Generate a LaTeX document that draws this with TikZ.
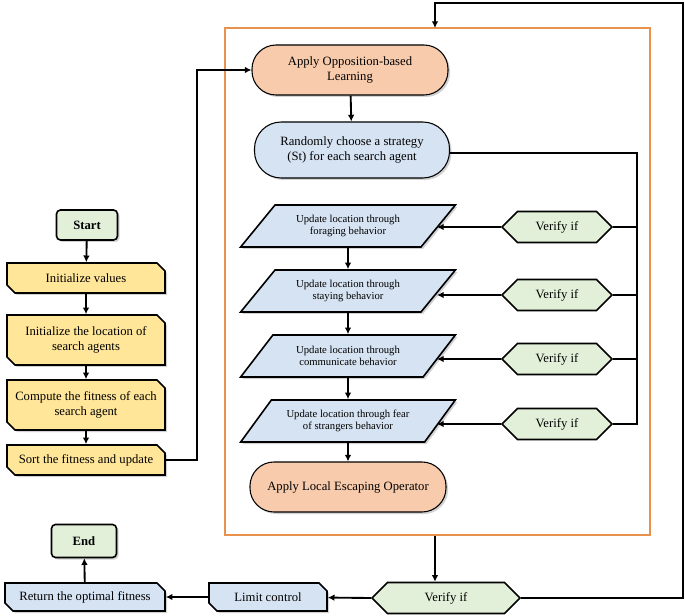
\documentclass[tikz,border=0pt]{standalone}
\usepackage{fontspec}
\setmainfont{Liberation Serif}
\usetikzlibrary{shapes.misc,shapes.geometric,shapes.symbols,arrows.meta,shadows}
\newdimen\pxu \pxu=0.75pt
\definecolor{myorange}{HTML}{F7CBAC}
\definecolor{myblue}{HTML}{D6E3F2}
\definecolor{mygreen}{HTML}{E2F0D9}
\definecolor{myyellow}{HTML}{FFE699}
\definecolor{frameor}{HTML}{E8924E}
\begin{document}
\begin{tikzpicture}[x=0.75pt,y=-0.75pt,
  base/.style={draw=black,line width=1.2pt,align=center,font=\fontsize{9.5}{11}\selectfont,inner sep=1pt,
    drop shadow={shadow xshift=1.5pt,shadow yshift=-1.5pt,fill=gray!70}},
  term/.style={base,rounded corners=3pt,fill=mygreen,font=\fontsize{9.5}{11}\selectfont\bfseries},
  proc/.style={base,chamfered rectangle,chamfered rectangle corners={north east,south west},chamfered rectangle xsep=3pt,fill=myyellow},
  bproc/.style={proc,fill=myblue},
  pill/.style={base,rounded corners=18pt,line width=0.8pt},
  para/.style={base,line width=1.2pt,trapezium,trapezium left angle=45,trapezium right angle=135,trapezium stretches=true,fill=myblue,font=\fontsize{8}{9.5}\selectfont,minimum width={215\pxu},minimum height={42\pxu}},
  ver/.style={draw=black,line width=1.2pt,signal,signal to=east and west,fill=mygreen,font=\fontsize{9.5}{11}\selectfont,minimum width={110\pxu},minimum height={31\pxu},inner sep=1pt},
  arr/.style={line width=1.4pt,-{Latex[length=5pt,width=5pt]}},
  ln/.style={line width=1.2pt}]
\useasboundingbox (0,0) rectangle (685,616);
\draw[frameor,line width=1pt] (225,28) rectangle (650,535);
% left column
\node[term,minimum width={61\pxu},minimum height={30\pxu}] (start) at (87,225) {Start};
\node[proc,minimum width={158\pxu},minimum height={30\pxu}] (iv) at (86,278) {Initialize values};
\node[proc,minimum width={158\pxu},minimum height={50\pxu}] (il) at (86,340) {Initialize the location of\\search agents};
\node[proc,minimum width={158\pxu},minimum height={50\pxu}] (cf) at (86,405) {Compute the fitness of each\\search agent};
\node[proc,minimum width={158\pxu},minimum height={30\pxu}] (sf) at (86,460) {Sort the fitness and update};
\draw[arr] (start) -- (iv);
\draw[arr] (iv) -- (il);
\draw[arr] (il) -- (cf);
\draw[arr] (cf) -- (sf);
% frame content
\node[pill,fill=myorange,minimum width={196\pxu},minimum height={50\pxu}] (obl) at (350,70) {Apply Opposition-based\\Learning};
\node[pill,fill=myblue,minimum width={195\pxu},minimum height={56\pxu},rounded corners=20pt] (rc) at (352,150) {Randomly choose a strategy\\(St) for each search agent};
\node[para] (p1) at (348,226) {Update location through\\foraging behavior};
\node[para] (p2) at (348,291) {Update location through\\staying behavior};
\node[para] (p3) at (348,356) {Update location through\\communicate behavior};
\node[para] (p4) at (348,421) {Update location through fear\\of strangers behavior};
\node[pill,fill=myorange,minimum width={196\pxu},minimum height={50\pxu}] (leo) at (348,487) {Apply Local Escaping Operator};
\node[ver] (v1) at (557,227) {Verify if};
\node[ver] (v2) at (557,295) {Verify if};
\node[ver] (v3) at (557,359) {Verify if};
\node[ver] (v4) at (557,424) {Verify if};
\coordinate (rt) at (637,153);
\coordinate (rb) at (637,424);
\draw[ln] (rc.east |- rt) -- (rt) -- (rb) -- (v4.east);
\draw[ln] (v1.east) -- (v1.east -| rt);
\draw[ln] (v2.east) -- (v2.east -| rt);
\draw[ln] (v3.east) -- (v3.east -| rt);
\draw[arr] (v1.west) -- (437,227);
\draw[arr] (v2.west) -- (437,295);
\draw[arr] (v3.west) -- (437,359);
\draw[arr] (v4.west) -- (437,424);
\draw[arr] (obl) -- (rc);
\draw[arr] (p1) -- (p2);
\draw[arr] (p2) -- (p3);
\draw[arr] (p3) -- (p4);
\draw[arr] (p4) -- (leo);
% sort to OBL
\coordinate (s1) at (197,460);
\coordinate (s2) at (197,70);
\draw[arr] (sf.east) -- (s1) -- (s2) -- (obl.west);
% bottom
\node[ver,minimum width={148\pxu}] (vb) at (446,598) {Verify if};
\node[bproc,minimum width={118\pxu},minimum height={28\pxu}] (lc) at (268,597) {Limit control};
\node[bproc,minimum width={160\pxu},minimum height={28\pxu}] (ret) at (85,597) {Return the optimal fitness};
\node[term,minimum width={65\pxu},minimum height={33\pxu}] (end) at (84,541) {End};
\coordinate (fb) at (435,536);
\draw[arr] (fb) -- (fb |- vb.north);
\draw[arr] (vb.west) -- (lc);
\draw[arr] (lc) -- (ret);
\draw[arr] (ret) -- (end);
\coordinate (l1) at (683,598);
\coordinate (l2) at (683,3);
\coordinate (l3) at (435,3);
\coordinate (ft) at (435,28);
\draw[arr] (vb.east) -- (l1) -- (l2) -- (l3) -- (ft);
\end{tikzpicture}
\end{document}
